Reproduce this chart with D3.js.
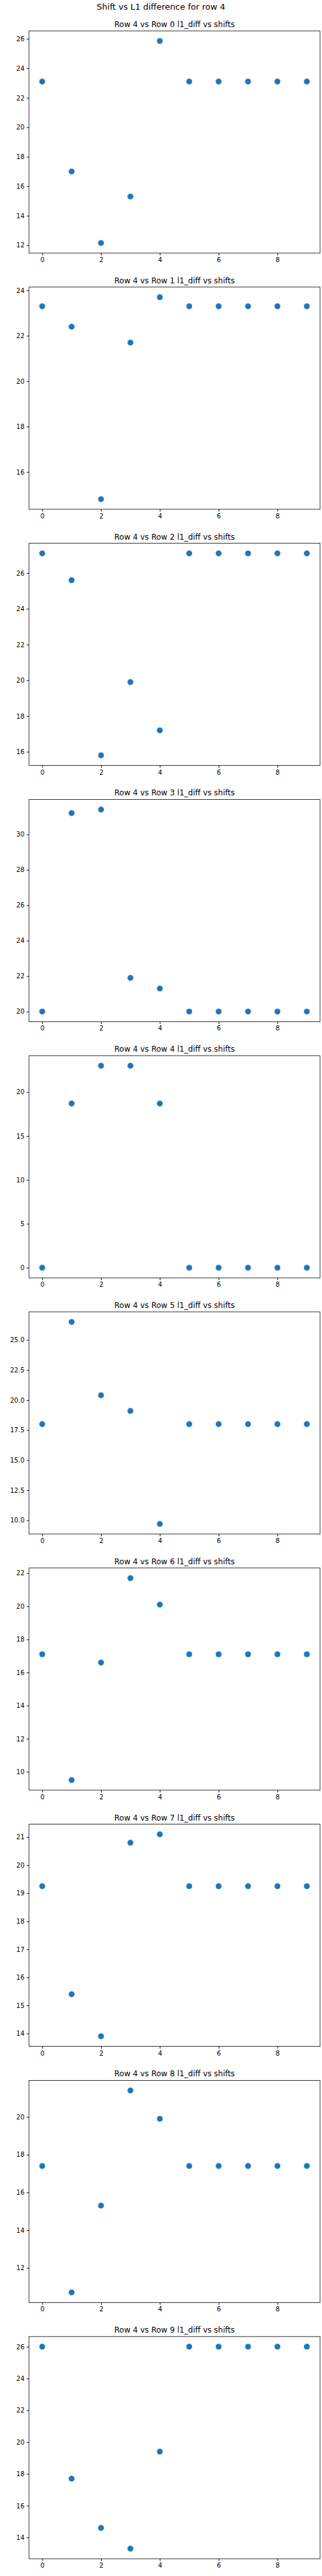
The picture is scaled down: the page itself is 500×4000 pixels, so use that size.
<!DOCTYPE html><html><head><script src="https://cdn.jsdelivr.net/npm/d3@7"></script>
<style>body{margin:0;background:#fff}text{font-family:"DejaVu Sans",sans-serif}</style></head><body>
<svg id="c" width="500" height="4000"></svg>
<script>
const shifts=[0,1,2,3,4,5,6,7,8,9];
const row0=[23.1,17.0,12.15,15.3,25.85,23.1,23.1,23.1,23.1,23.1];
const row1=[23.3,22.4,14.8,21.7,23.7,23.3,23.3,23.3,23.3,23.3];
const row2=[27.1,25.6,15.8,19.9,17.2,27.1,27.1,27.1,27.1,27.1];
const row3=[20.0,31.2,31.4,21.9,21.3,20.0,20.0,20.0,20.0,20.0];
const row4=[0,18.7,23.0,23.0,18.7,0,0,0,0,0];
const row5=[18.0,26.5,20.4,19.1,9.7,18.0,18.0,18.0,18.0,18.0];
const row6=[17.1,9.5,16.6,21.7,20.1,17.1,17.1,17.1,17.1,17.1];
const row7=[19.25,15.4,13.9,20.8,21.1,19.25,19.25,19.25,19.25,19.25];
const row8=[17.4,10.7,15.3,21.4,19.9,17.4,17.4,17.4,17.4,17.4];
const row9=[26.0,17.7,14.6,13.3,19.4,26.0,26.0,26.0,26.0,26.0];
const rows=[row0,row1,row2,row3,row4,row5,row6,row7,row8,row9];
const yTicks=[[12,14,16,18,20,22,24,26],[16,18,20,22,24],[16,18,20,22,24,26],[20,22,24,26,28,30],[0,5,10,15,20],[10,12.5,15,17.5,20,22.5,25],[10,12,14,16,18,20,22],[14,15,16,17,18,19,20,21],[12,14,16,18,20],[14,16,18,20,22,24,26]];
const xTicks=[0,2,4,6,8];
const svg=d3.select("#c");
svg.append("text").attr("x",250).attr("y",15).attr("text-anchor","middle").attr("font-size",13).text("Shift vs L1 difference for row 4");
const L=45,R=497,H=345,T0=48,step=397.8;
rows.forEach((d,i)=>{
  const top=T0+i*step;
  const g=svg.append("g");
  const x=d3.scale=d3.scaleLinear().domain([-0.45,9.45]).range([L,R]);
  const mn=d3.min(d),mx=d3.max(d),pad=(mx-mn)*0.05;
  const y=d3.scaleLinear().domain([mn-pad,mx+pad]).range([top+H,top]);
  const fmt=i==5?d3.format(".1f"):d3.format("d");
  g.append("g").attr("transform",`translate(0,${top+H})`).call(d3.axisBottom(x).tickValues(xTicks).tickSize(3.5).tickPadding(3.5)).call(a=>{a.select(".domain").remove();a.selectAll("text").attr("font-size",10).attr("fill","#000").style("font-family","DejaVu Sans");});
  g.append("g").attr("transform",`translate(${L},0)`).call(d3.axisLeft(y).tickValues(yTicks[i]).tickFormat(fmt).tickSize(3.5).tickPadding(3.5)).call(a=>{a.select(".domain").remove();a.selectAll("text").attr("font-size",10).attr("fill","#000").style("font-family","DejaVu Sans");});
  g.append("rect").attr("x",L).attr("y",top).attr("width",R-L).attr("height",H).attr("fill","none").attr("stroke","#000").attr("stroke-width",0.8);
  g.append("text").attr("x",(L+R)/2).attr("y",top-6).attr("text-anchor","middle").attr("font-size",12).text(`Row 4 vs Row ${i} l1_diff vs shifts`);
  g.selectAll("circle").data(d).join("circle").attr("cx",(v,j)=>x(shifts[j])).attr("cy",v=>y(v)).attr("r",4.8).attr("fill","#1f77b4").attr("stroke","#fff").attr("stroke-width",0.5);
});
</script></body></html>
